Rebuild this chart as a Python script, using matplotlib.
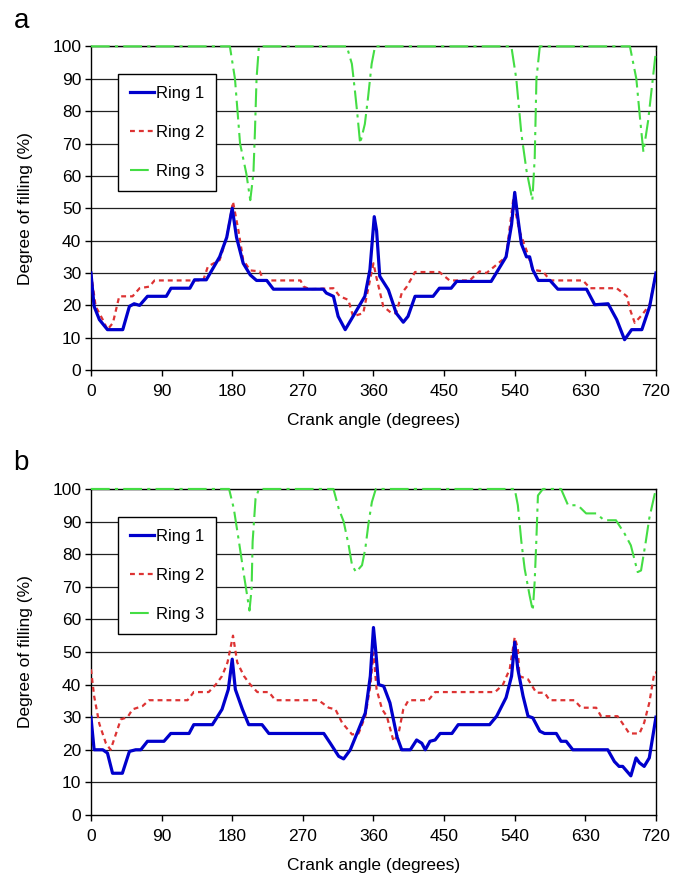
import matplotlib
matplotlib.use("Agg")
import matplotlib.pyplot as plt
import numpy as np

plt.rcParams['font.family'] = ['Liberation Sans', 'DejaVu Sans']

# ---------------- data (crank angle in degrees, degree of filling in %) ----------------
a_ring1_x = [0, 4, 10.7, 21, 40.5, 49, 55, 62, 72, 96, 102, 126, 132, 147, 164, 173, 180, 185.5, 194, 203,
             211, 224, 232.5, 296, 300, 309, 315, 324, 334, 349, 355.5, 361, 364, 368, 379, 389, 398, 404,
             413, 436, 444, 459, 466, 510, 529, 536, 540, 544, 548.5, 555, 559, 563, 570, 585, 595, 631.5,
             642, 659, 670, 680, 689, 702, 712, 720]
a_ring1_y = [30, 19.7, 15.6, 12.5, 12.5, 19.7, 20.5, 20, 22.8, 22.8, 25.3, 25.3, 27.9, 27.9, 35, 41, 50, 41, 33, 29.4,
             27.7, 27.7, 25, 25, 23.8, 22.8, 16.6, 12.5, 16.6, 22.8, 31, 47.4, 43, 29, 24.8, 17.6, 14.8, 16.6,
             22.8, 22.8, 25.3, 25.3, 27.4, 27.4, 35, 45, 54.9, 47, 39, 35, 35, 31, 27.7, 27.7, 25, 25,
             20.2, 20.5, 15.6, 9.4, 12.5, 12.5, 19.7, 30]

a_ring2_x = [0, 6, 15, 21, 28, 36, 53, 62, 74.5, 81, 143, 149, 164, 173, 181, 188, 194, 203, 215, 220,
             267, 271, 279, 309, 317, 328, 334, 347, 353, 360, 364, 372.5, 383, 389, 396, 402, 413, 444,
             457, 482.5, 495, 504, 516.6, 529, 538, 546, 555, 563, 576, 585, 627, 636, 670, 683, 687, 693,
             702, 712, 720]
a_ring2_y = [30, 19.7, 15.6, 12.5, 14.6, 22.8, 22.8, 25.3, 25.8, 27.7, 27.7, 32, 34, 41, 52, 43, 34, 30.8, 30.5, 27.7,
             27.7, 25.8, 25, 25.3, 22.8, 21.7, 16.6, 17.6, 24.8, 33, 28.4, 19.7, 17.6, 17.6, 23.8, 25.6, 30.3, 30.3,
             27.7, 27.7, 30.5, 30, 32.5, 35, 52.5, 43, 37, 31, 30.5, 27.7, 27.7, 25.3, 25.3, 22.8, 18.7, 14.6,
             17, 20.2, 30]

a_ring3_x = [0, 177, 183.5, 190, 198, 203, 207, 209, 211, 214, 326, 332.5, 336.5, 339.5, 343, 349, 353, 357.7, 362,
             535.7, 542, 548.5, 555, 562.5, 565.5, 567.7, 572, 686.8, 695, 699.6, 704, 710, 716, 720]
a_ring3_y = [100, 100, 90, 70, 60.7, 52.5, 60.7, 74, 90, 100, 100, 94.6, 86, 79, 70, 76, 84, 94.6, 100,
             100, 90, 73, 61.7, 52.5, 65.6, 90, 100, 100, 90, 78, 67.4, 77, 90, 98.7]

b_ring1_x = [0, 4, 15, 21, 27.5, 40, 49, 57, 63.5, 72, 93, 101.7, 125, 131, 154.7, 167, 175, 180, 184, 193,
             201, 218, 226.7, 296.7, 305, 315.7, 322, 330.5, 339, 349.6, 356, 360, 363, 366.5, 373, 381, 390,
             396, 407, 415, 421.6, 426, 432, 438.5, 445, 460, 468, 508, 517, 529, 536, 540, 544, 550.6, 557,
             563, 572, 578, 593, 599, 605.6, 614, 658.6, 667, 673, 677.6, 688, 694.6, 699, 705, 711.5, 720]
b_ring1_y = [30, 20, 20, 19, 12.8, 12.8, 19.5, 20, 20, 22.6, 22.6, 25, 25, 27.7, 27.7, 32.4, 38.5, 47.8, 38.5, 32.4,
             27.7, 27.7, 25, 25, 22, 18, 17.2, 20, 25, 31.3, 42.6, 57.5, 50, 40, 39.5, 34.4, 24,
             20, 20, 23, 22, 20, 22.6, 23, 25, 25, 27.7, 27.7, 30.3, 36, 42.6, 53, 44.7, 36.5, 30.3,
             29.8, 25.7, 25, 25, 22.6, 22.6, 20, 20, 16.4, 14.9, 14.9, 12, 17.5, 16, 14.9, 17.5, 30]

b_ring2_x = [0, 4, 10.6, 19, 25, 32, 38, 46.6, 53, 65.7, 74, 123, 131, 150, 159, 167, 174, 181, 186.4, 195,
             203, 212, 226.7, 235, 290, 303, 311.5, 320, 332.7, 341, 349.6, 356, 360, 364, 371, 377, 385.6,
             392, 398, 404.7, 430, 438.5, 515, 525, 533.6, 540, 544, 546, 557, 567.5, 578, 584.5, 616,
             624.7, 643.8, 650, 671, 680, 686, 699, 705, 711.5, 718, 720]
b_ring2_y = [44.7, 36.5, 28, 22, 20, 25, 29.3, 30, 32.4, 33.4, 35.2, 35.2, 37.7, 37.7, 40, 42.6, 46.8, 55, 46.8, 42.6,
             40, 37.7, 37.7, 35.2, 35.2, 32.9, 32.4, 28.3, 24.7, 25, 30.3, 39.6, 49.8, 38.5, 32.4, 30.3, 22.6,
             25, 32.4, 35.2, 35.2, 37.7, 37.7, 40, 44.7, 54.5, 51, 42.6, 41.6, 37.5, 37.5, 35.2, 35.2,
             32.9, 32.9, 30.3, 30.3, 27.2, 25, 25, 28.3, 34.4, 43.7, 43.7]

b_ring3_x = [0, 176, 182, 188.6, 195, 202, 204.7, 206, 209.7, 214, 309, 315.7, 322, 328.4, 332.7, 337.8, 345.4,
             349.6, 354, 358, 363, 540, 544, 548.5, 552.7, 559, 563, 565.4, 567.5, 569.6, 576, 599, 608,
             620.5, 631, 643.8, 654, 669, 680, 688, 696.7, 701, 707, 711.5, 718, 720]
b_ring3_y = [100, 100, 94, 83.8, 73.5, 62.7, 69.4, 83.8, 97, 100, 100, 94, 90, 82.7, 76.6, 74.5, 76.6,
             81.7, 90, 96, 100, 100, 95, 83.8, 75.5, 67.3, 62.7, 71.4, 83.8, 98, 100, 100, 95,
             95, 92.5, 92.5, 90.4, 90.4, 86.3, 82.7, 74.5, 75, 83.8, 91, 98, 100]

series_labels = ["Ring 1", "Ring 2", "Ring 3"]
x_ticks = [0, 90, 180, 270, 360, 450, 540, 630, 720]
y_ticks = [0, 10, 20, 30, 40, 50, 60, 70, 80, 90, 100]

# ---------------- styling ----------------
FS = 12.5
c1, c2, c3 = "#0000CC", "#DD3333", "#44DD44"

fig = plt.figure(figsize=(6.84, 8.75), dpi=100)
ax_a = fig.add_axes([0.133, 0.577, 0.826, 0.370])
ax_b = fig.add_axes([0.133, 0.0686, 0.826, 0.3726])


def draw(ax, r1, r2, r3):
    for y in y_ticks[1:]:
        ax.axhline(y, color="#222222", lw=0.9, zorder=1)
    l1, = ax.plot(r1[0], r1[1], color=c1, lw=2.3, zorder=4, label=series_labels[0], solid_joinstyle='round')
    l2, = ax.plot(r2[0], r2[1], color=c2, lw=1.6, zorder=3, label=series_labels[1],
                  dashes=(2.2, 1.8))
    l3, = ax.plot(r3[0], r3[1], color=c3, lw=1.5, zorder=3, label=series_labels[2],
                  dashes=(9, 2.5, 1.5, 2.5), clip_on=False)
    ax.set_xlim(0, 720)
    ax.set_ylim(0, 100)
    ax.set_xticks(x_ticks)
    ax.set_yticks(y_ticks)
    ax.tick_params(axis='both', direction='out', length=4, width=1, labelsize=FS, color='black')
    ax.tick_params(axis='x', pad=6)
    ax.tick_params(axis='y', pad=3)
    for s in ax.spines.values():
        s.set_color('black')
        s.set_linewidth(1.0)
    ax.set_xlabel("Crank angle (degrees)", fontsize=FS, labelpad=10)
    ax.set_ylabel("Degree of filling (%)", fontsize=FS, labelpad=14)
    leg = ax.legend(handles=[l1, l2, l3], loc='upper left', bbox_to_anchor=(0.048, 0.914),
                    borderaxespad=0, frameon=True, fancybox=False, framealpha=1,
                    edgecolor='black', fontsize=12, labelspacing=1.45, handlelength=1.45,
                    handletextpad=0.1, borderpad=0.7)
    leg.get_frame().set_linewidth(1.0)
    leg.set_zorder(5)


draw(ax_a, (a_ring1_x, a_ring1_y), (a_ring2_x, a_ring2_y), (a_ring3_x, a_ring3_y))
draw(ax_b, (b_ring1_x, b_ring1_y), (b_ring2_x, b_ring2_y), (b_ring3_x, b_ring3_y))

fig.text(0.02, 0.968, "a", fontsize=20, ha='left', va='baseline')
fig.text(0.02, 0.463, "b", fontsize=20, ha='left', va='baseline')

fig.savefig("out.png", dpi=100)
